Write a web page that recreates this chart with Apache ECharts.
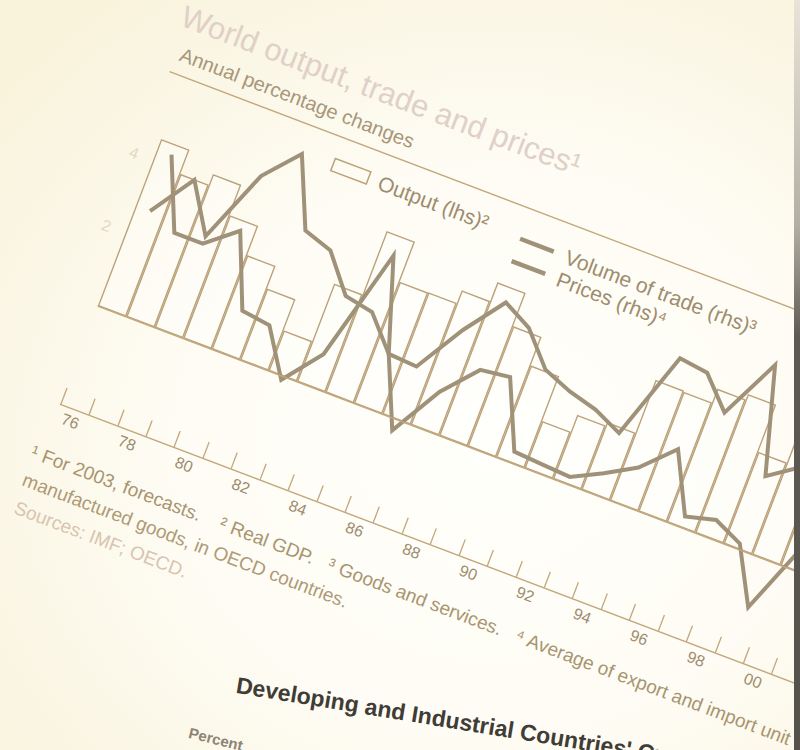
<!DOCTYPE html>
<html>
<head>
<meta charset="utf-8">
<script src="https://cdn.jsdelivr.net/npm/echarts@6/dist/echarts.min.js"></script>
<style>
html,body{margin:0;padding:0;width:800px;height:750px;overflow:hidden;}
body{background:radial-gradient(ellipse 80% 75% at 62% 60%, #fffffb 0%, #fefcf4 50%, #f9f3dc 100%);}
#chart{position:absolute;left:0;top:0;width:1200px;height:870px;transform-origin:0 0;transform:rotate(20.8deg) translate(-50px,-150px);}
#edge{position:absolute;left:794px;top:0;width:6px;height:750px;background:linear-gradient(180deg,#e8e4d8 0%,#b4afa5 30%,#5e5a53 45%,#55524c 100%);}
</style>
</head>
<body>
<div id="chart"></div>
<div id="edge"></div>
<script>
// ---- data ----
const years = ['76','77','78','79','80','81','82','83','84','85','86','87','88','89',
               '90','91','92','93','94','95','96','97','98','99','00','01','02','03'];
// Output (real GDP), lhs, % change
const output = [4.58, 3.92, 4.21, 3.38, 2.58, 1.96, 1.11, 2.69, 4.43, 3.33, 3.34, 3.69, 4.21, 3.30,
                2.52, 1.29, 1.76, 1.86, 3.31, 3.28, 3.66, 3.81, 2.52, 3.22, 4.7, 2.3, 2.9, 3.2];
// Volume of trade, rhs, % change
const volume = [8.6, 4.9, 4.9, 6.2, 2.4, 2.2, -0.2, 1.8, 7.8, 3.0, 2.9, 5.5, 7.6, 6.8,
                5.1, 4.5, 4.1, 3.4, 8.1, 7.9, 6.3, 9.5, 4.0, 5.1, 12.0, 0.0, 3.0, 4.5];
// Prices, rhs, % change
const prices = [5.5, 7.8, 5.3, 9.2, 11.0, 7.4, 6.9, 5.0, 4.7, 3.0, -0.6, 2.1, 3.9, 4.1,
                0.6, 0.5, 0.4, 1.2, 2.1, 3.7, 0.6, 1.0, 0.3, -2.6, 1.4, 1.0, 2.0, 3.0];
const lhsLabels = [2, 4];

const titleText = 'World output, trade and prices\u00b9';
const subtitleText = 'Annual percentage changes';
const seriesNames = ['Output (lhs)', 'Volume of trade (rhs)', 'Prices (rhs)'];
const seriesMarks = {'Output (lhs)':'\u00b2', 'Volume of trade (rhs)':'\u00b3', 'Prices (rhs)':'\u2074'};
const footLines = [
  '\u00b9 For 2003, forecasts.    \u00b2 Real GDP.   \u00b3 Goods and services.   \u2074 Average of export and import unit values of',
  'manufactured goods, in OECD countries.',
  'Sources: IMF; OECD.'
];
const nextHeading = "Developing and Industrial Countries' Current Account Balances";
const nextUnit = 'Percent';

// ---- styles ----
const FONT = '"Liberation Sans", Arial, Helvetica, sans-serif';
const BAR = '#bba27a';
const LINE = '#a09279';
const AXIS = '#c2a77c';
const TXT = '#9e8c6e';

const chart = echarts.init(document.getElementById('chart'), null, {renderer: 'svg'});
chart.setOption({
  animation: false,
  backgroundColor: 'transparent',
  textStyle: {fontFamily: FONT},
  title: [
    {text: titleText, left: 226, top: 84, padding: 0,
     textStyle: {fontSize: 31, fontWeight: 'normal', color: '#e0d0c8', fontFamily: FONT}},
    {text: subtitleText, left: 238, top: 126, padding: 0,
     textStyle: {fontSize: 20, fontWeight: 'normal', color: '#a8967a', fontFamily: FONT}}
  ],
  legend: [
    {data: [{name: seriesNames[0], icon: 'rect',
             itemStyle: {color: 'rgba(255,255,255,0)', borderColor: BAR, borderWidth: 1.5}}],
     left: 419, top: 175, padding: 0, itemWidth: 38, itemHeight: 13,
     formatter: n => n + seriesMarks[n],
     textStyle: {fontSize: 21, color: TXT, fontFamily: FONT, padding: [0, 0, 0, 6]}},
    {data: [seriesNames[1], seriesNames[2]], orient: 'vertical', icon: 'rect',
     left: 621, top: 178, padding: 0, itemWidth: 36, itemHeight: 4.5, itemGap: 3,
     formatter: n => n + seriesMarks[n],
     textStyle: {fontSize: 21, color: TXT, fontFamily: FONT, padding: [0, 0, 0, 8]}}
  ],
  grid: {left: 250, top: 167.3, width: 852, height: 351, containLabel: false},
  xAxis: {
    type: 'category', data: years, boundaryGap: true, position: 'bottom', offset: -12.3,
    axisLine: {show: true, onZero: false, lineStyle: {color: AXIS, width: 1.4}},
    axisTick: {show: true, inside: true, length: 17, interval: 0, alignWithLabel: false,
               lineStyle: {color: AXIS, width: 1.3}},
    axisLabel: {interval: 1, margin: 5, fontSize: 16, color: TXT, fontFamily: FONT},
    splitLine: {show: false}
  },
  yAxis: [
    {type: 'value', min: -3, max: 6, interval: 1, position: 'left',
     axisLine: {show: false}, axisTick: {show: false}, splitLine: {show: false},
     axisLabel: {margin: 16, fontSize: 16, color: '#e4d9c2', fontFamily: FONT,
                 formatter: v => lhsLabels.indexOf(v) >= 0 ? String(v) : ''}},
    {type: 'value', min: -6, max: 12, interval: 3, position: 'right',
     axisLine: {show: false}, axisTick: {show: false}, splitLine: {show: false},
     axisLabel: {fontSize: 16, color: TXT, fontFamily: FONT}}
  ],
  series: [
    {name: seriesNames[0], type: 'bar', data: output, yAxisIndex: 0, barCategoryGap: '0%',
     itemStyle: {color: 'rgba(255,255,255,0.35)', borderColor: BAR, borderWidth: 1.4},
     markLine: {silent: true, symbol: 'none', label: {show: false},
                lineStyle: {color: AXIS, width: 1.3, type: 'solid'}, data: [{yAxis: 0}]}},
    {name: seriesNames[1], type: 'line', data: volume, yAxisIndex: 1, symbol: 'none',
     lineStyle: {color: LINE, width: 4, join: 'miter', miterLimit: 8}, itemStyle: {color: LINE}},
    {name: seriesNames[2], type: 'line', data: prices, yAxisIndex: 1, symbol: 'none',
     lineStyle: {color: LINE, width: 4, join: 'miter', miterLimit: 8}, itemStyle: {color: LINE}}
  ],
  graphic: [
    {type: 'line', shape: {x1: 234, y1: 156.8, x2: 1190, y2: 156.8},
     style: {stroke: AXIS, lineWidth: 1.3}},
    {type: 'text', x: 240, y: 551,
     style: {text: footLines[0], fontSize: 19, fontFamily: FONT, fill: '#a8946f', verticalAlign: 'top'}},
    {type: 'text', x: 242, y: 580,
     style: {text: footLines[1], fontSize: 19, fontFamily: FONT, fill: '#ae9a76', verticalAlign: 'top'}},
    {type: 'text', x: 244, y: 609,
     style: {text: footLines[2], fontSize: 19, fontFamily: FONT, fill: '#d9c4b0', verticalAlign: 'top'}},
    {type: 'text', x: 512, y: 695, rotation: 0.2,
     style: {text: nextHeading, fontSize: 23, fontWeight: 'bold', fontFamily: FONT, fill: '#403c36', verticalAlign: 'top'}},
    {type: 'text', x: 486, y: 760, rotation: 0.12,
     style: {text: nextUnit, fontSize: 15, fontWeight: 'bold', fontFamily: FONT, fill: '#8c8476', verticalAlign: 'top'}}
  ]
});
</script>
</body>
</html>
